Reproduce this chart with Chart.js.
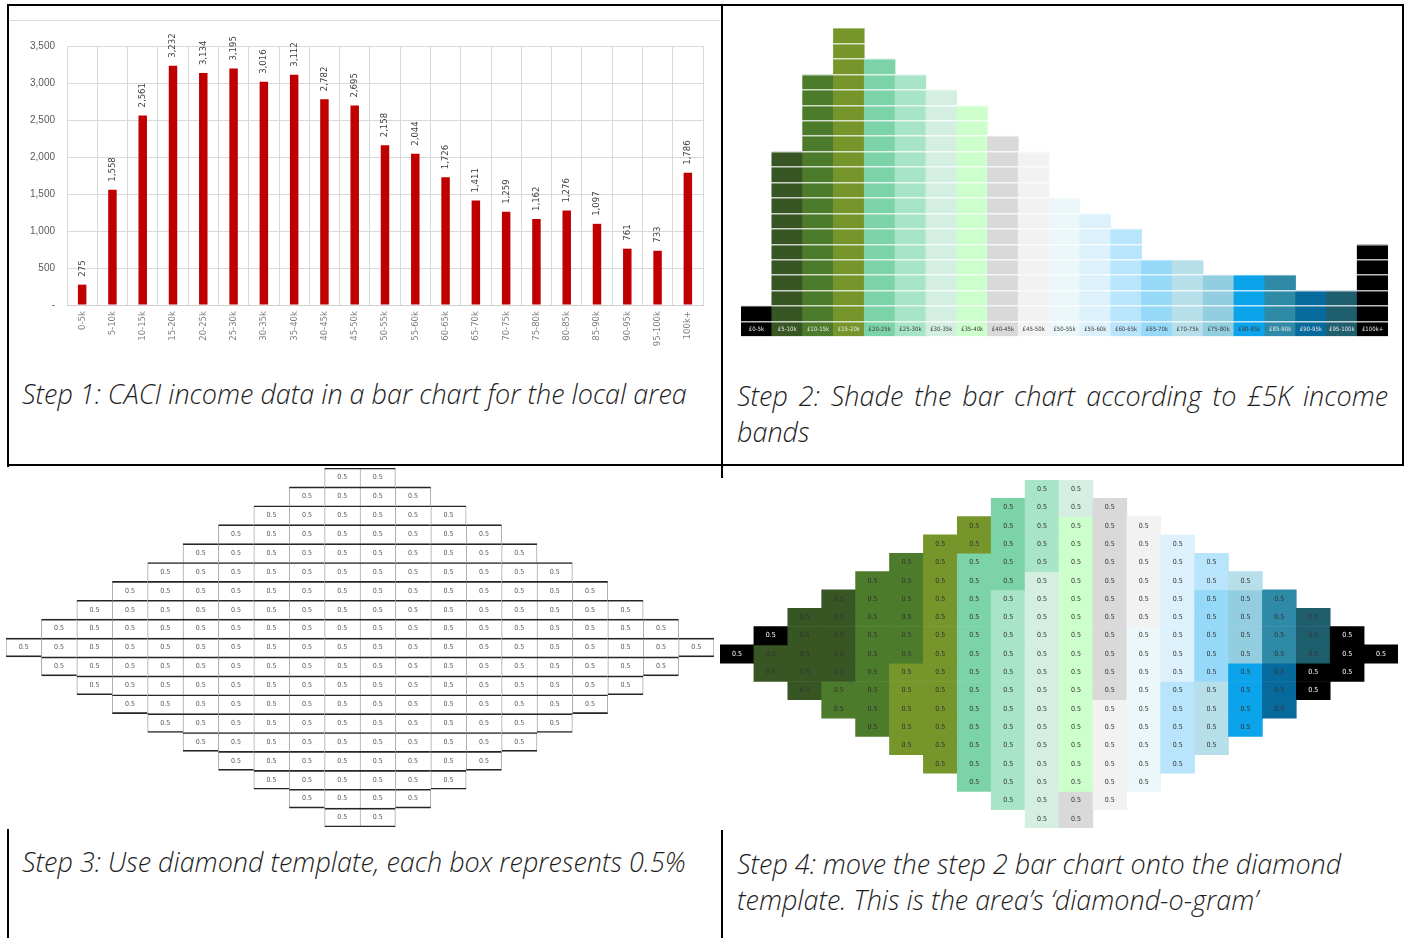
<!DOCTYPE html>
<html>
<head>
<meta charset="utf-8">
<title>CACI income diamond-o-gram</title>
<script src="https://cdn.jsdelivr.net/npm/chart.js@4.4.1/dist/chart.umd.min.js"></script>
<style>
  html, body { margin: 0; padding: 0; background: #fff; }
  body { width: 1407px; height: 938px; position: relative; overflow: hidden; }
  .line { position: absolute; background: #000; }
  .panel { position: absolute; }
  .panel canvas { display: block; background: #fff; }
  .caption { position: absolute; font-family: 'Open Sans', Lato, sans-serif; font-style: italic; font-weight: 300;
             font-size: 24px; line-height: 36px; color: #1e1e1e; white-space: nowrap; }
  .justify { text-align: justify; text-align-last: justify; }
</style>
</head>
<body>

<!-- table borders -->
<div class="line" style="left:7px;top:4px;width:1397px;height:2px"></div>
<div class="line" style="left:7px;top:4px;width:2px;height:934px"></div>
<div class="line" style="left:721px;top:4px;width:2px;height:934px"></div>
<div class="line" style="left:1402px;top:4px;width:2px;height:462px"></div>
<div class="line" style="left:7px;top:464px;width:1397px;height:2px"></div>

<div class="panel" style="left:10px;top:20px;border-top:1px solid #d9d9d9">
  <canvas id="incomeChart" width="710" height="337"></canvas>
</div>
<div class="panel" style="left:724px;top:8px">
  <canvas id="shadeChart" width="676" height="333"></canvas>
</div>
<div class="panel" style="left:6px;top:467px">
  <canvas id="templateChart" width="710" height="362"></canvas>
</div>
<div class="panel" style="left:720px;top:478px">
  <canvas id="diamondChart" width="680" height="352"></canvas>
</div>

<div class="caption" style="left:22px;top:376px"><span id="cap1">Step 1: CACI income data in a bar chart for the local area</span></div>
<div class="caption" style="left:737px;top:378px;width:651px">
  <div class="justify">Step 2: Shade the bar chart according to £5K income</div>
  <div>bands</div>
</div>
<div class="caption" style="left:22px;top:844px">Step 3: Use diamond template, each box represents 0.5%</div>
<div class="caption" style="left:737px;top:846px">
  <div>Step 4: move the step 2 bar chart onto the diamond</div>
  <div>template. This is the area’s ‘diamond-o-gram’</div>
</div>

<script>
// step 1 data (CACI income counts)
const incomeBands = ['0-5k', '5-10k', '10-15k', '15-20k', '20-25k', '25-30k', '30-35k', '35-40k', '40-45k', '45-50k',
  '50-55k', '55-60k', '60-65k', '65-70k', '70-75k', '75-80k', '80-85k', '85-90k', '90-95k', '95-100k', '100k+'];
const incomeCounts = [275, 1558, 2561, 3232, 3134, 3195, 3016, 3112, 2782, 2695,
  2158, 2044, 1726, 1411, 1259, 1162, 1276, 1097, 761, 733, 1786];
const incomeTicks = [0, 500, 1000, 1500, 2000, 2500, 3000, 3500];

// step 2 / step 4 data: boxes of 0.5% per £5k band (incl. the label box)
const shadeLabels = ['£0-5k', '£5-10k', '£10-15k', '£15-20k', '£20-25k', '£25-30k', '£30-35k', '£35-40k', '£40-45k', '£45-50k',
  '£50-55k', '£55-60k', '£60-65k', '£65-70k', '£70-75k', '£75-80k', '£80-85k', '£85-90k', '£90-95k', '£95-100k', '£100k+'];
const bandCells = [2, 12, 17, 20, 18, 17, 16, 15, 13, 12, 9, 8, 7, 5, 5, 4, 4, 4, 3, 3, 6];

// step 3 data: boxes per column of the diamond template
const diamondColumnCells = [1, 3, 5, 7, 9, 11, 13, 15, 17, 19, 19, 17, 15, 13, 11, 9, 7, 5, 3, 1];
const cellValue = '0.5';

const shadeColours = ['#000000', '#375623', '#4b7b2b', '#76952a', '#7dd3a8', '#a8e4c8', '#d4efe2', '#ccffcc', '#d9d9d9', '#f2f2f2',
  '#ebf7f9', '#ddf1fc', '#b8e5fb', '#96d8f8', '#b6dfea', '#93cee0', '#0ba3ea', '#2e8aa7', '#066a9c', '#1f5e6d', '#000000'];
const darkBands = [0, 1, 2, 3, 17, 18, 19, 20];

const narrow = "'Liberation Sans Narrow', 'DejaVu Sans Condensed', sans-serif";

// captions: size the font so the first caption spans the same width as in the original
const cap1 = document.getElementById('cap1');
const capSize = 24 * 665 / cap1.getBoundingClientRect().width;
document.querySelectorAll('.caption').forEach(el => { el.style.fontSize = capSize.toFixed(2) + 'px'; });

Chart.defaults.animation = false;
Chart.defaults.responsive = false;
Chart.defaults.events = [];
Chart.defaults.plugins.legend.display = false;
Chart.defaults.plugins.tooltip.enabled = false;

// ---------- step 1 ----------
const barValueLabels = {
  id: 'barValueLabels',
  afterDatasetsDraw(chart) {
    const ctx = chart.ctx;
    ctx.save();
    ctx.fillStyle = '#404040';
    ctx.font = '9.5px ' + narrow;
    ctx.textAlign = 'left';
    ctx.textBaseline = 'middle';
    chart.getDatasetMeta(0).data.forEach((bar, i) => {
      ctx.save();
      ctx.translate(bar.x, bar.y - 8);
      ctx.rotate(-Math.PI / 2);
      ctx.fillText(incomeCounts[i].toLocaleString('en-US'), 0, 0);
      ctx.restore();
    });
    ctx.restore();
  }
};

new Chart(document.getElementById('incomeChart'), {
  type: 'bar',
  data: {
    labels: incomeBands,
    datasets: [{ data: incomeCounts, backgroundColor: '#c00000', categoryPercentage: 1, barPercentage: 0.28 }]
  },
  options: {
    layout: { padding: { top: 25, right: 17, left: 0, bottom: 0 } },
    scales: {
      x: {
        grid: { color: '#d9d9d9', drawTicks: false, offset: true },
        border: { color: '#d0d0d0' },
        ticks: { color: '#7f7f7f', font: { family: narrow, size: 9.5 }, minRotation: 90, maxRotation: 90, padding: 6, autoSkip: false },
        afterFit: s => { s.height = 53; }
      },
      y: {
        min: incomeTicks[0],
        max: incomeTicks[incomeTicks.length - 1],
        grid: { color: '#d9d9d9', drawTicks: false },
        border: { display: false },
        afterBuildTicks: s => { s.ticks = incomeTicks.map(v => ({ value: v })); },
        ticks: {
          color: '#595959', font: { family: "'Liberation Sans', sans-serif", size: 10 }, padding: 12,
          callback: v => v === 0 ? '-' : v.toLocaleString('en-US')
        },
        afterFit: s => { s.width = 57; }
      }
    }
  },
  plugins: [barValueLabels]
});

// ---------- step 2 ----------
const shadeBandLabels = {
  id: 'shadeBandLabels',
  afterDatasetsDraw(chart) {
    const ctx = chart.ctx;
    const y = chart.scales.y.getPixelForValue(0.5);
    ctx.save();
    ctx.font = '6px ' + narrow;
    ctx.textAlign = 'center';
    ctx.textBaseline = 'middle';
    chart.getDatasetMeta(0).data.forEach((bar, i) => {
      ctx.fillStyle = darkBands.includes(i) ? '#e8e8e8' : '#3a3a3a';
      ctx.fillText(shadeLabels[i], bar.x, y);
    });
    ctx.restore();
  }
};

new Chart(document.getElementById('shadeChart'), {
  type: 'bar',
  data: {
    labels: shadeLabels,
    datasets: [{ data: bandCells, backgroundColor: shadeColours, categoryPercentage: 1, barPercentage: 1, borderWidth: 0 }]
  },
  options: {
    layout: { padding: { top: 20, right: 12, left: 17, bottom: 4 } },
    scales: {
      x: { display: false },
      y: {
        min: 0,
        max: Math.max(...bandCells),
        afterFit: s => { s.width = 0; },
        ticks: { display: false, stepSize: 1 },
        border: { display: false },
        grid: { z: 1, color: 'rgba(255,255,255,0.75)', lineWidth: 1.5, drawTicks: false }
      }
    }
  },
  plugins: [shadeBandLabels]
});

// ---------- diamond helpers ----------
const rowCount = Math.max(...diamondColumnCells);
const mid = (rowCount - 1) / 2;
const columnLabels = diamondColumnCells.map((_, c) => 'col ' + (c + 1));
const inColumn = (c, r) => c >= 0 && c < diamondColumnCells.length && Math.abs(r - mid) <= (diamondColumnCells[c] - 1) / 2;
const rowData = r => diamondColumnCells.map((_, c) => inColumn(c, r) ? [mid - r - 0.5, mid - r + 0.5] : null);

function makeCellText(colourFor) {
  return {
    id: 'cellText',
    afterDatasetsDraw(chart) {
      const ctx = chart.ctx;
      ctx.save();
      ctx.font = '7px ' + narrow;
      ctx.textAlign = 'center';
      ctx.textBaseline = 'middle';
      chart.data.datasets.forEach((ds, i) => {
        if (!ds.cellText) return;
        chart.getDatasetMeta(i).data.forEach((el, c) => {
          if (ds.data[c] == null) return;
          ctx.fillStyle = colourFor(c, ds.row);
          ctx.fillText(cellValue, el.x, (el.y + el.base) / 2);
        });
      });
      ctx.restore();
    }
  };
}

const diamondScales = {
  x: { display: false },
  y: { display: false, min: -rowCount / 2, max: rowCount / 2 }
};

// ---------- step 3 ----------
const templateSets = [];
for (let r = 0; r < rowCount; r++) {
  templateSets.push({
    row: r, order: 1, data: rowData(r),
    backgroundColor: '#ffffff', borderColor: '#a6a6a6', borderSkipped: false,
    borderWidth: ctx => ({ left: 1, right: inColumn(ctx.dataIndex + 1, r) ? 0 : 1, top: 0, bottom: 0 })
  });
  templateSets.push({
    row: r, order: 0, data: rowData(r), cellText: true,
    backgroundColor: 'rgba(0,0,0,0)', borderColor: '#262626', borderSkipped: false,
    borderWidth: ctx => ({ top: 1, bottom: inColumn(ctx.dataIndex, r + 1) ? 0 : 1, left: 0, right: 0 })
  });
}

new Chart(document.getElementById('templateChart'), {
  type: 'bar',
  data: { labels: columnLabels, datasets: templateSets },
  options: {
    layout: { padding: { top: 1, right: 2, left: 0, bottom: 2 } },
    datasets: { bar: { grouped: false, categoryPercentage: 1, barPercentage: 1 } },
    scales: diamondScales
  },
  plugins: [makeCellText(() => '#595959')]
});

// ---------- step 4 ----------
// fill the template column by column, top to bottom, band after band
const cellBand = diamondColumnCells.map(() => []);
let band = 0, used = 0;
diamondColumnCells.forEach((n, c) => {
  for (let r = 0; r < rowCount; r++) {
    if (!inColumn(c, r)) continue;
    while (used >= bandCells[band]) { band++; used = 0; }
    cellBand[c][r] = band;
    used++;
  }
});

const diamondSets = [];
for (let r = 0; r < rowCount; r++) {
  diamondSets.push({
    row: r, data: rowData(r), cellText: true, borderWidth: 0,
    backgroundColor: ctx => shadeColours[cellBand[ctx.dataIndex][r]] || '#ffffff'
  });
}

new Chart(document.getElementById('diamondChart'), {
  type: 'bar',
  data: { labels: columnLabels, datasets: diamondSets },
  options: {
    layout: { padding: { top: 2, right: 2, left: 0, bottom: 2 } },
    datasets: { bar: { grouped: false, categoryPercentage: 1, barPercentage: 1 } },
    scales: diamondScales
  },
  plugins: [makeCellText((c, r) => shadeColours[cellBand[c][r]] === '#000000' ? '#ffffff' : '#333333')]
});
</script>
</body>
</html>
